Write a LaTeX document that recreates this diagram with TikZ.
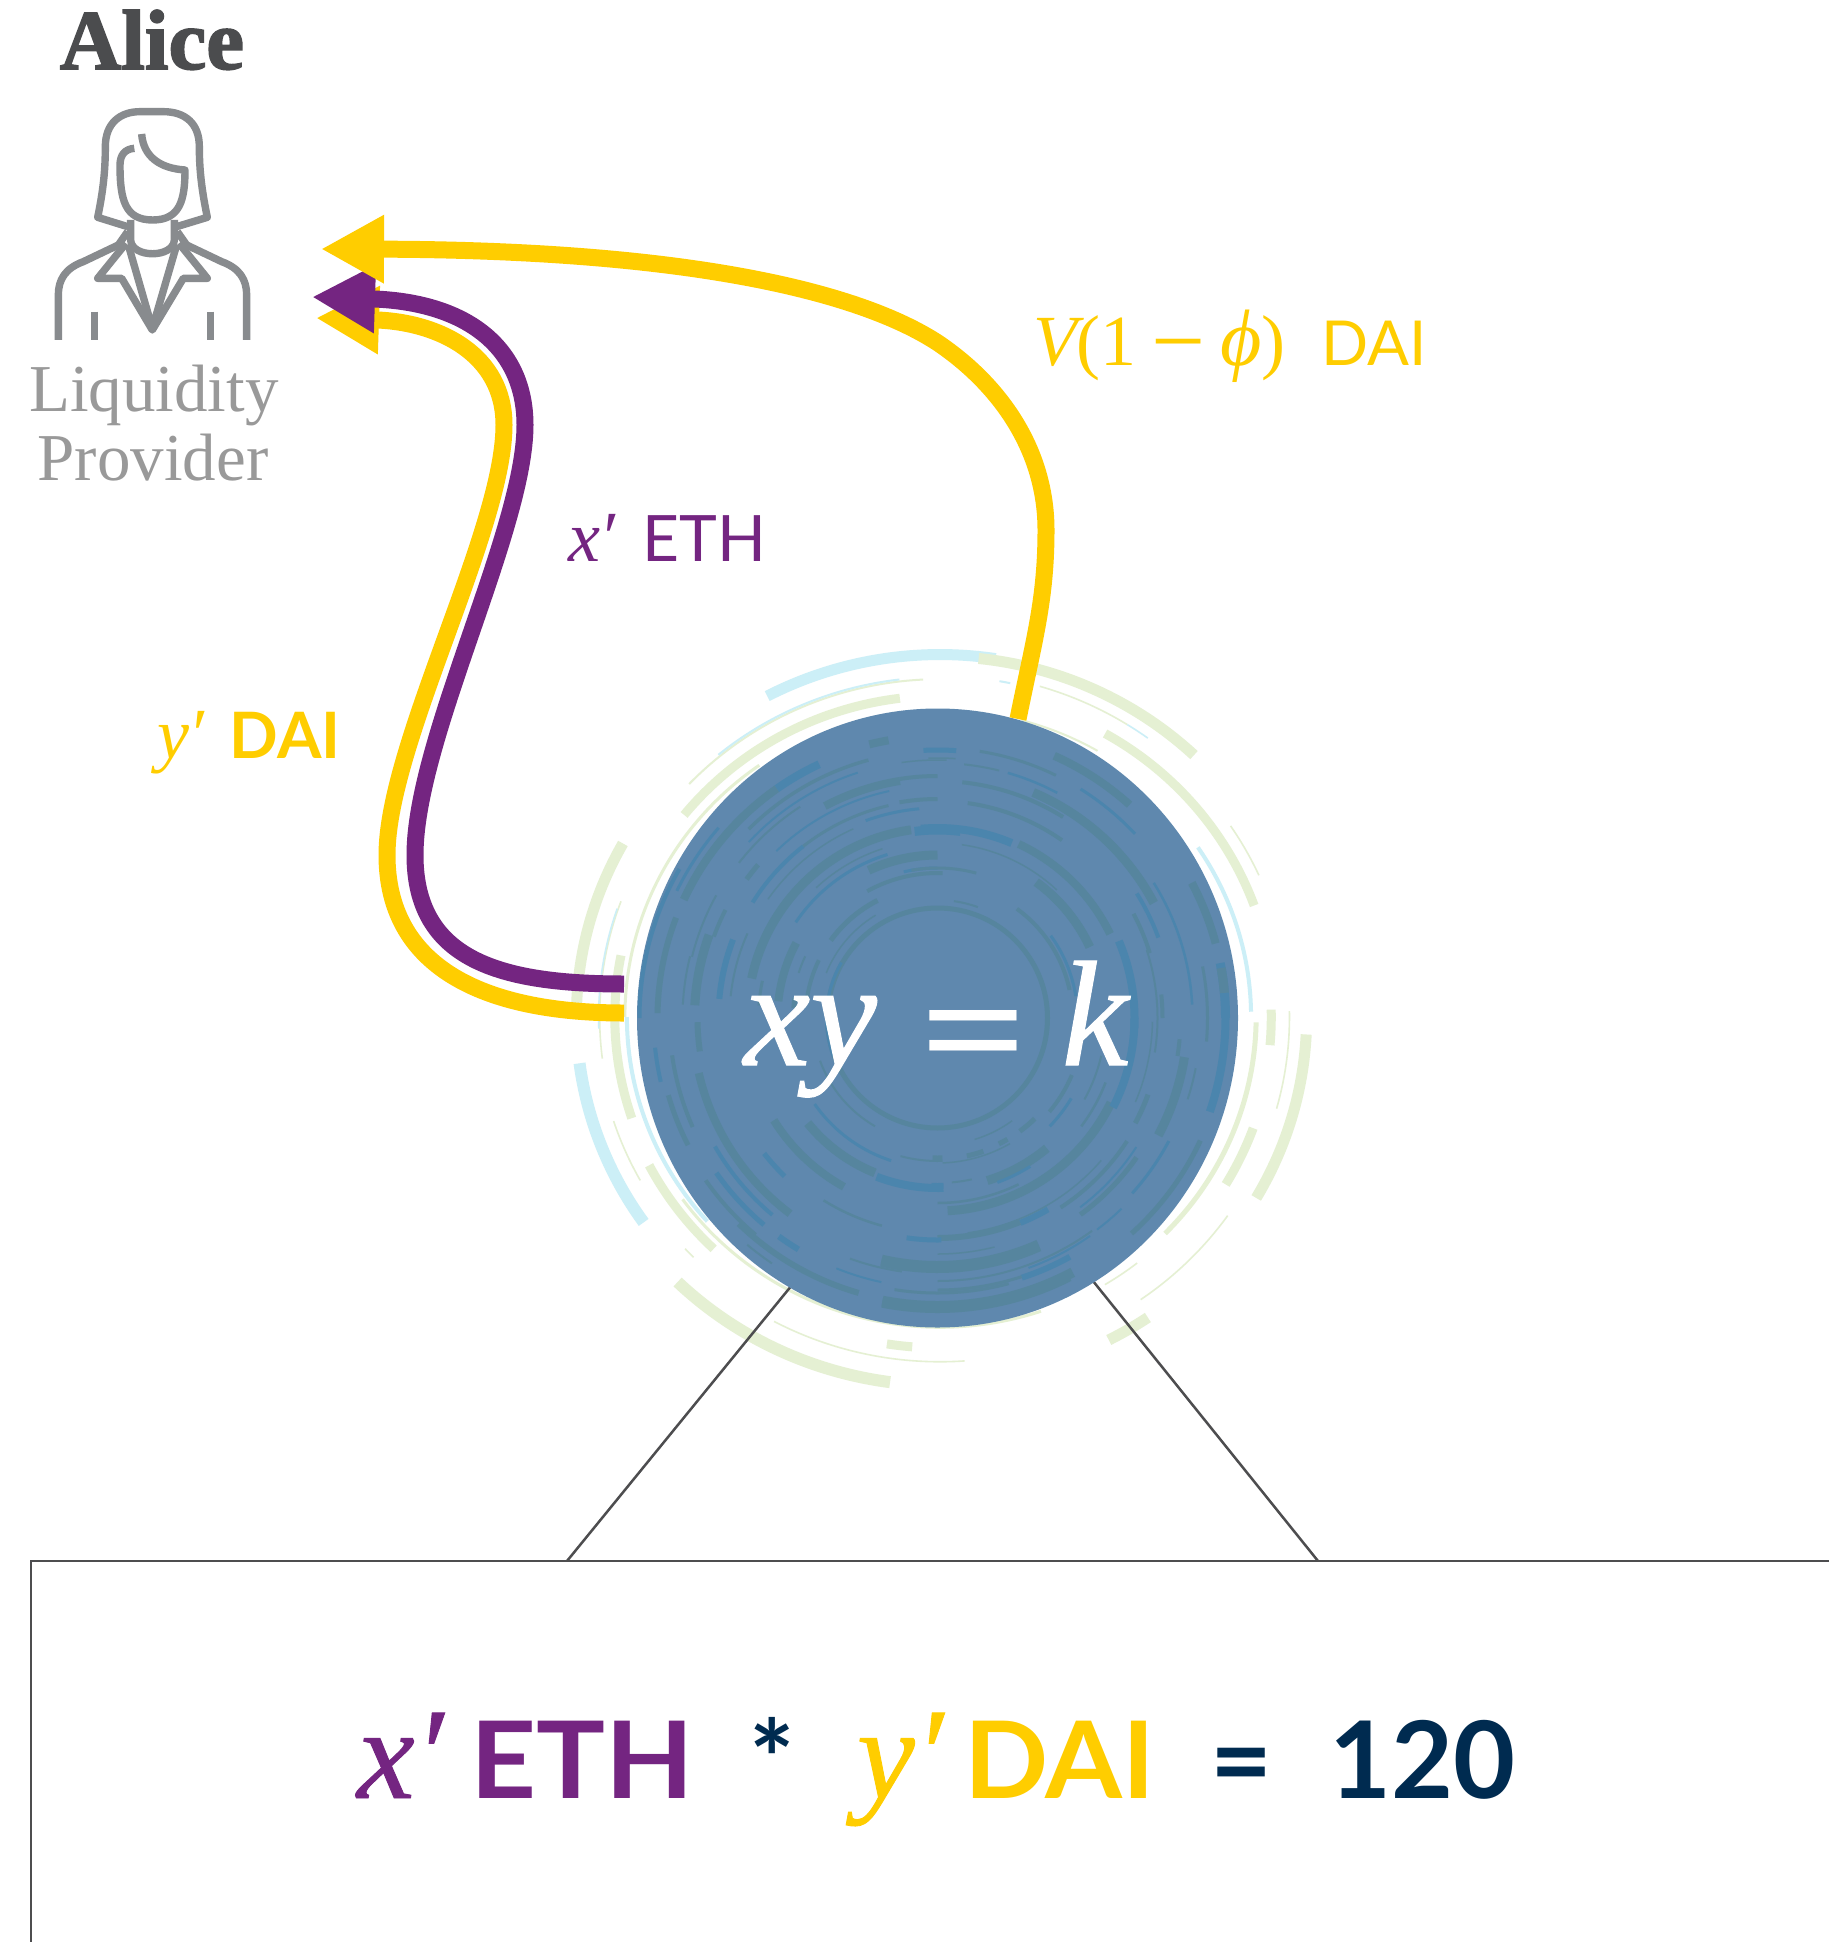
\documentclass[tikz,border=0pt]{standalone}
\usepackage{fontspec}
\usetikzlibrary{arrows.meta,shapes.geometric}
\newfontfamily\tms{Liberation Serif}
\newfontfamily\lato{Lato}
\definecolor{gold}{HTML}{FFCD00}
\definecolor{plum}{HTML}{742581}
\definecolor{navy}{HTML}{002B50}
\definecolor{poolblue}{HTML}{5F88AE}
\definecolor{ringG}{HTML}{E5F0D3}
\definecolor{ringB}{HTML}{CCEFF7}
\definecolor{teal}{HTML}{56859E}
\definecolor{deepb}{HTML}{4B85AD}
\definecolor{icon}{HTML}{888B8E}
\definecolor{rule}{HTML}{4D4D4F}
\tikzset{
  flow/.style={line width=17pt,-{Triangle[length=63pt,width=64pt]}},
  iconline/.style={icon,line width=7.4pt,line join=round},
  framing/.style={rule,line width=2.5pt},
  lbl/.style={anchor=base west,inner sep=0pt,outer sep=0pt},
  clbl/.style={anchor=base,inner sep=0pt,outer sep=0pt,align=center},
}
\newcommand{\rarc}[5]{\draw[#5,line width=#4pt] (#2:#1) arc[start angle=#2,end angle=#3,radius=#1];}
\newcommand{\heavyit}{\tms\itshape\addfontfeature{FakeBold=0.7}}
\begin{document}
\begin{tikzpicture}[x=1pt,y=1pt]
\useasboundingbox (0,0) rectangle (1829,-1942);
\fill[white] (0,0) rectangle (1829,-1942);

% outer rings
\begin{scope}[shift={(940,-1017)},xscale=1.01,yscale=.985]
\foreach \r/\a/\b/\w/\c in {
 368/81.4/117.7/11/ringB, 366/46.6/84/11/ringG, 331/20/60.4/9/ringG,
 350/58/73.6/1.6/ringG, 350/54/58/1.6/ringB, 347/24.5/34/1.6/ringG,
 308/1/34/4/ringB, 313/-44.6/-1/5/ringG, 328/-5/1.3/9/ringG,
 346/-15.6/1/1.6/ringG, 363/-30.4/-2.8/11/ringG, 330/-31/-20/9/ringG,
 349/-55.3/-35.3/1.6/ringG, 368/-63/-56/11/ringG, 317/-59/-52/1.6/ringG,
 315/-144/-71.5/3/ringG, 350/-118/-86/1.6/ringG, 336/-99/-94.7/9/ringG,
 374/-134/-97.6/12/ringG, 325/-152.4/-133.6/9/ringG, 345/-137/-135/1.6/ringG,
 340/-161.9/-150.8/1.6/ringG, 360/-172.5/-144.6/12/ringB, 322/168.8/198.6/9/ringG,
 360/150.7/180/11/ringG, 337/159.6/187.2/1.6/ringG, 338/161/182/1.6/ringB,
 343/92.8/136.4/2/ringG, 345/96.7/129.5/2/ringB, 326/97/141/9/ringG,
 346/78.4/80.2/2/ringB, 312/60/75/2/ringG, 312/125/180/3/ringG, 310/180/222/4/ringB}
 {\rarc{\r}{\a}{\b}{\w}{\c}}
\end{scope}

% frame
\coordinate (boxR) at (1829,-1561);
\coordinate (boxL) at (31,-1561);
\coordinate (boxB) at (31,-1942);
\coordinate (zoomL) at (567,-1561);
\coordinate (zoomR) at (1318,-1561);
\coordinate (poolL) at (792,-1285);
\coordinate (poolR) at (1093,-1281);
\draw[framing] (boxR) -- (boxL) -- (boxB);
\draw[framing] (poolL) -- (zoomL);
\draw[framing] (poolR) -- (zoomR);

% pool
\node[ellipse,fill=poolblue,minimum width=601pt,minimum height=619pt,inner sep=0pt] (pool) at (937.5,-1018) {};
\begin{scope}[shift={(937.5,-1018)}]
\clip (0,0) ellipse (300.5 and 309.5);
\foreach \r/\a/\b/\w/\c in {
 110/0/360/5/teal, 111/150/200/3/deepb,
 280/125/155/8/teal, 280/115/125/8/deepb, 267/105/135/3.5/teal, 258/108/137/2/deepb,
 252/123/142/2/teal, 240/99/118/8/teal, 242/90/99/4/teal, 232/102/134/2/deepb,
 282/100/104/8/teal, 268/86/93/5/deepb, 260/86/92/1.5/teal, 219/90/100/4/teal,
 210/95/110/3/deepb, 218/128/148/4/deepb, 218/103/128/3/teal, 207/114/145/1.5/teal,
 236/139.5/144/5/teal, 190/98/168/9/teal, 188/83/97/9/deepb, 178/108/133/1.5/teal,
 171/107/146/3/deepb, 163/90/115/9/teal, 145/88/119/4/teal, 150/90/103/3/deepb,
 132/117/144/5/teal, 120/121/158/1.5/teal, 160/152/174/8/teal, 146/155/162/2/teal,
 132/154/172/4/teal, 179/168/176/3/teal, 144/172/176/5/teal, 219/159/175/6/deepb,
 208/156/174/2/teal, 243/160/177/9/teal, 238/153/160/4/teal, 253/151/166/2/teal,
 255/166/177/2/teal, 280/159/179/6/teal, 290/139/154/3/deepb, 298/150/180/4/deepb,
 288/-19/0/8/deepb, 250/-28/-9/9/teal, 243/-9/-5/4/teal, 263/-18/-11/2/teal,
 224/-28/-20/5/teal, 290/-48/-25/5/teal, 262/-42/-28/3/deepb, 243/-54/-35/5/teal,
 237/-53/-33/2/deepb, 226/-57/-33/4/teal, 265/-53/-46/2/deepb, 217/-82/-41/1.5/teal,
 221/-68/-60/6/deepb, 220/-90/-68/6/teal, 193/-87/-26/9/teal, 170/-73/-50/9/teal,
 175/-70/-58/3/deepb, 185/-90/-64/2.5/teal, 197/-27/0/8/deepb, 180/-37/-21/2.5/teal,
 215/-23/-1/1.5/teal, 156/-44/-31/3/deepb, 146/-40/-23/4/teal, 168/-29/-13/2/teal,
 140/-92/-88/5/teal, 141/-78/-71/5/teal, 140/-64/-60/5/teal, 140/-54/-46/5/teal,
 127/-73/-54/1.5/teal, 145/-88/-60/1.5/teal, 165/-85/-78/2/teal, 168/-92/-88/6/deepb,
 248/-103/-66/10/teal, 273/-72/-61/6/deepb, 272/-90/-72/3/teal, 288/-101/-62/10/teal,
 266/-70/-55/2/deepb, 263/-90/-54/2/teal, 236/-90/-76/1.5/teal,
 287/48/66/8/teal, 270/64/81/3/teal, 255/62/74/2.5/deepb, 255/76/84/2/teal, 258/88/98/1.5/teal,
 237/58/84/4/teal, 245/28/67/9/teal, 217/55/82/4/teal, 270/43/58/3/deepb,
 190/67/95/8/deepb, 192/26/65/8/teal, 175/47/82/1.5/teal, 168/25/54/9/teal,
 150/75/100/3/teal, 135/12/54/4/teal, 140/9/36/3/deepb, 118/70/82/2/teal,
 288/15/28/8/teal, 255/3/32/2.5/deepb, 235/20/32/4/deepb, 222/17/28/4/teal,
 197/-3/23/8/deepb, 220/-9/18/2/teal, 288/0/11/9/deepb, 288/5/10/9/teal, 270/-5/11/3/teal,
 225/0/6/4/teal, 240/181/188/6/teal, 268/188/204/4/teal, 280/196/207/5/teal,
 284/186/193/4/deepb, 245/193/233/8/teal, 257/210/230/4/deepb, 283/215/230/4/teal,
 270/215/230/5/deepb, 296/230/236/2/teal, 286/226/254/6/teal, 270/234/239/6/deepb,
 193/212/241/8/teal, 220/218/226/5/deepb, 167/219/248/9/teal, 150/215/252/3/deepb,
 170/249/272/8/deepb, 215/238/255/2.5/teal, 222/262/271/5/deepb, 250/257/294/10/teal,
 275/261/285/3/teal, 290/259/297/10/teal, 270/248/258/2/deepb, 256/250/262/2/teal,
 143/255/272/2/teal, 125/200/240/2/teal}
 {\rarc{\r}{\a}{\b}{\w}{\c}}
\end{scope}
\node[clbl,white,font=\tms\fontsize{150}{150}\selectfont] (poolEq) at (936,-1065)
  {{\heavyit xy}\hspace{44pt}\raisebox{-15pt}{\scalebox{1.25}[1]{\bfseries =}}\hspace{34pt}{\heavyit k}};

% flows
\coordinate (topStart) at (1018,-719);
\coordinate (topEnd) at (321,-249);
\coordinate (ethStart) at (624,-984);
\coordinate (ethEnd) at (312,-297);
\coordinate (daiStart) at (624,-1013);
\coordinate (daiEnd) at (316,-318);
\draw[gold,flow] (daiStart)
  .. controls (480,-1013) and (387,-965) .. (387,-855)
  .. controls (387,-745) and (504,-530) .. (504,-425)
  .. controls (504,-355) and (440,-322) .. (daiEnd);
\draw[plum,flow] (ethStart)
  .. controls (500,-984) and (415,-960) .. (415,-855)
  .. controls (415,-740) and (525,-530) .. (525,-425)
  .. controls (525,-350) and (470,-302) .. (ethEnd);
\draw[gold,flow] (topStart)
  .. controls (1034,-640) and (1046,-600) .. (1046,-530)
  .. controls (1046,-450) and (1000,-385) .. (938,-343)
  .. controls (860,-292) and (690,-250) .. (topEnd);

% labels
\node[clbl,font=\tms\bfseries\addfontfeature{FakeBold=2}\fontsize{85}{85}\selectfont,color=icon!55!black] (alice) at (152,-69) {Alice};
\node[clbl,font=\tms\fontsize{67}{67}\selectfont,color=black!40] (lp1) at (154,-411) {Liquidity};
\node[clbl,font=\tms\fontsize{67}{67}\selectfont,color=black!40] (lp2) at (153,-480) {Provider};

\node[lbl,plum] (ethLbl) at (568,-561) {{\fontsize{72}{72}\selectfont\tms\itshape x′}\hspace{27pt}{\fontsize{64}{64}\selectfont\lato ETH}};
\node[lbl,gold] (daiLbl) at (157,-758) {{\fontsize{72}{72}\selectfont\tms\itshape y′}\hspace{25pt}{\fontsize{64}{64}\selectfont\lato\bfseries DAI}};
\node[lbl,gold] (feeLbl) at (1033,-365)
  {{\fontsize{72}{72}\selectfont\tms{\itshape V}(1\hspace{15pt}\raisebox{-8pt}{\fontsize{96}{96}\selectfont −}\hspace{14pt}{\fontsize{80}{80}\selectfont\itshape ϕ})}\hspace{36pt}{\fontsize{62}{62}\selectfont\lato DAI}};

\node[lbl,plum,font=\heavyit\fontsize{130}{130}\selectfont] (xp) at (357,-1798) {x′};
\node[lbl,plum,font=\lato\bfseries\fontsize{107}{107}\selectfont,xscale=1.075,transform shape] (eth) at (470,-1798) {ETH};
\node[lbl,navy,font=\lato\bfseries\fontsize{107}{107}\selectfont] (star) at (749,-1798) {*};
\node[lbl,gold,font=\heavyit\fontsize{130}{130}\selectfont] (yp) at (857,-1798) {y′};
\node[lbl,gold,font=\lato\bfseries\fontsize{107}{107}\selectfont,xscale=1.035,transform shape] (dai) at (964,-1798) {DAI};
\node[lbl,navy,font=\lato\bfseries\fontsize{107}{107}\selectfont] (eq) at (1210,-1798) {=};
\node[lbl,navy,font=\lato\bfseries\fontsize{107}{107}\selectfont] (num) at (1329,-1798) {120};

% icon
\begin{scope}[x=1pt/3,y=1pt/3]
\draw[iconline] (383,-680) -- (293,-652) .. controls (310,-570) and (316,-510) .. (316,-440)
  .. controls (316,-370) and (360,-335) .. (420,-335) -- (490,-335)
  .. controls (555,-335) and (598,-370) .. (598,-440)
  .. controls (598,-510) and (605,-570) .. (622,-652) -- (530,-680);
\draw[iconline] (403,-445) .. controls (375,-447) and (360,-465) .. (360,-495)
  .. controls (360,-600) and (375,-660) .. (458,-660)
  .. controls (540,-660) and (555,-600) .. (555,-510)
  .. controls (480,-505) and (430,-470) .. (425,-402);
\draw[iconline] (392,-660) -- (392,-720) .. controls (395,-775) and (520,-775) .. (523,-720) -- (523,-660);
\draw[iconline] (383,-695) -- (355,-735) -- (250,-785) .. controls (195,-805) and (175,-840) .. (175,-885) -- (175,-1020);
\draw[iconline] (532,-695) -- (560,-735) -- (665,-785) .. controls (720,-805) and (740,-840) .. (740,-885) -- (740,-1020);
\draw[iconline] (378,-730) -- (293,-835) -- (365,-835) -- (457,-990) -- (550,-835) -- (622,-835) -- (537,-730);
\draw[iconline] (385,-735) -- (457,-985) -- (530,-735);
\draw[iconline] (283,-935) -- (283,-1020);
\draw[iconline] (631,-935) -- (631,-1020);
\end{scope}
\end{tikzpicture}
\end{document}
